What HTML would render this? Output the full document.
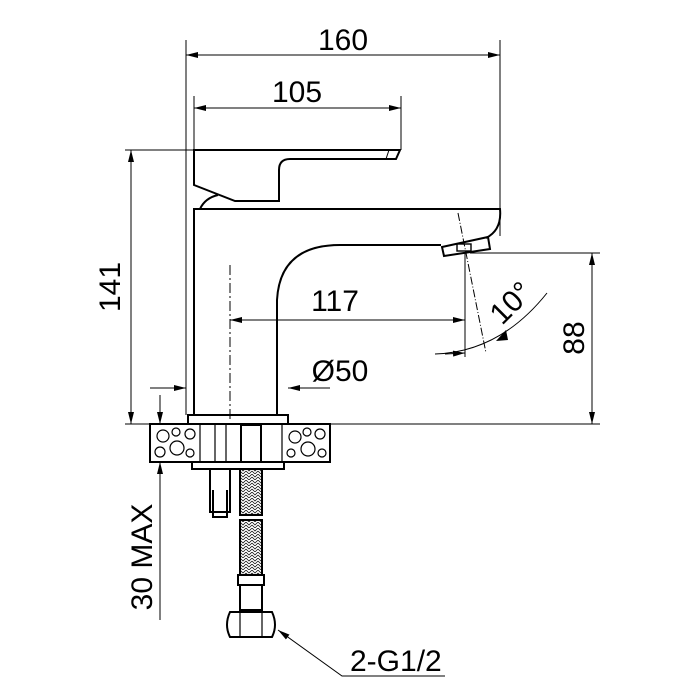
<!DOCTYPE html>
<html><head><style>body{margin:0;background:#fff}svg{display:block}</style></head><body>
<svg width="700" height="700" viewBox="0 0 700 700" xmlns="http://www.w3.org/2000/svg" font-family="Liberation Sans, sans-serif">
<defs>
<marker id="a" viewBox="0 0 12 6" refX="12" refY="3" markerWidth="12" markerHeight="6" orient="auto-start-reverse" markerUnits="userSpaceOnUse"><path d="M0,0L12,3L0,6z" fill="#000"/></marker>
<pattern id="br" width="6" height="6" patternUnits="userSpaceOnUse"><path d="M0,0L3,3L6,0M0,3L3,6L6,3" stroke="#000" stroke-width="0.7" fill="none"/></pattern>
</defs>
<g stroke="#000" fill="none" stroke-width="1">
<line x1="186" y1="40" x2="186" y2="415"/>
<line x1="500" y1="40" x2="500" y2="236"/>
<line x1="194" y1="96" x2="194" y2="150"/>
<line x1="401" y1="96" x2="401" y2="150"/>
<line x1="125" y1="150" x2="194" y2="150"/>
<line x1="125" y1="424" x2="600" y2="424"/>
<line x1="470" y1="253" x2="600" y2="253"/>
<line x1="186" y1="55" x2="500" y2="55" marker-start="url(#a)" marker-end="url(#a)"/>
<line x1="194" y1="108" x2="401" y2="108" marker-start="url(#a)" marker-end="url(#a)"/>
<line x1="131" y1="150" x2="131" y2="424" marker-start="url(#a)" marker-end="url(#a)"/>
<line x1="592" y1="253" x2="592" y2="424" marker-start="url(#a)" marker-end="url(#a)"/>
<line x1="230" y1="320" x2="465" y2="320" marker-start="url(#a)" marker-end="url(#a)"/>
<line x1="150" y1="388" x2="186" y2="388" marker-end="url(#a)"/>
<line x1="330" y1="388" x2="288" y2="388" marker-end="url(#a)"/>
<line x1="160" y1="395" x2="160" y2="424" marker-end="url(#a)"/>
<line x1="160" y1="620" x2="160" y2="462" marker-end="url(#a)"/>
<line x1="465" y1="253" x2="465" y2="357"/>
<line x1="458" y1="213" x2="486" y2="353" stroke-dasharray="8,2,1,2"/>
<path d="M435,354 Q500,352 547,293" />
<line x1="445" y1="354" x2="465" y2="353" marker-end="url(#a)"/>
<line x1="230" y1="265" x2="230" y2="420" stroke-dasharray="10,3,2,3"/>
<polyline points="278,630 342,676 445,676" marker-start="url(#a)"/>
</g>
<path d="M496,341 L506,330 L508,340z" fill="#000"/>
<g stroke="#000" fill="none" stroke-width="2">
<path d="M194,150 L400,150 L396,159 L290,159 Q279,159 279,170 L279,201 L235,201 L194,185 Z"/>
<line x1="389" y1="150" x2="386" y2="159" stroke-width="1"/>
<path d="M200,209 Q205,198 218,195"/>
<path d="M194,415 L194,209 L500,209 Q502,230 486,238"/>
<path d="M441,245 Q400,245 340,245 Q280,245 277,300 L277,415"/>
<path d="M442,247 L488,237 L490,249 L444,256 Z"/>
<rect x="457" y="244" width="14" height="7" stroke-width="1.4"/>
<rect x="188" y="415" width="100" height="9" />
<rect x="150" y="424" width="180" height="38"/>
<rect x="192" y="462" width="92" height="7"/>
<path d="M210,469 L210,512 L230,512 L230,469"/>
<path d="M213,490 L213,517 L227,517 L227,490"/>
<rect x="241" y="425" width="20" height="37"/>
<rect x="240" y="469" width="22" height="46" fill="url(#br)"/>
<rect x="240" y="520" width="22" height="55" fill="url(#br)"/>
<rect x="238" y="575" width="26" height="10"/>
<rect x="240" y="585" width="22" height="25"/>
<path d="M230,612 L272,612 Q278,625 272,637 L230,637 Q224,625 230,612Z"/>
<line x1="240" y1="612" x2="240" y2="637" stroke-width="1.2"/>
<line x1="262" y1="612" x2="262" y2="637" stroke-width="1.2"/>
</g>
<g stroke="#000" stroke-width="1.2" fill="none">
<line x1="200" y1="424" x2="200" y2="462"/><line x1="282" y1="424" x2="282" y2="462"/>
<line x1="215" y1="424" x2="215" y2="462"/><line x1="226" y1="424" x2="226" y2="462"/>
<circle cx="163" cy="436" r="6"/><circle cx="177" cy="448" r="7"/><circle cx="190" cy="434" r="5"/><circle cx="160" cy="452" r="5"/><circle cx="190" cy="453" r="4"/><circle cx="176" cy="432" r="4"/>
<circle cx="295" cy="437" r="6"/><circle cx="308" cy="449" r="7"/><circle cx="320" cy="434" r="5"/><circle cx="291" cy="453" r="4"/><circle cx="322" cy="453" r="4"/><circle cx="307" cy="432" r="4"/>
</g>
<g font-size="30" fill="#000" text-anchor="middle">
<text x="343" y="50">160</text>
<text x="297" y="102">105</text>
<text x="335" y="311">117</text>
<text x="340" y="381">Ø50</text>
<text x="350" y="671" text-anchor="start">2-G1/2</text>
<text transform="translate(120,287) rotate(-90)">141</text>
<text transform="translate(584,338) rotate(-90)">88</text>
<text transform="translate(152,557) rotate(-90)">30 MAX</text>
<text transform="translate(518,310) rotate(-45)">10°</text>
</g>
</svg>
</body></html>
